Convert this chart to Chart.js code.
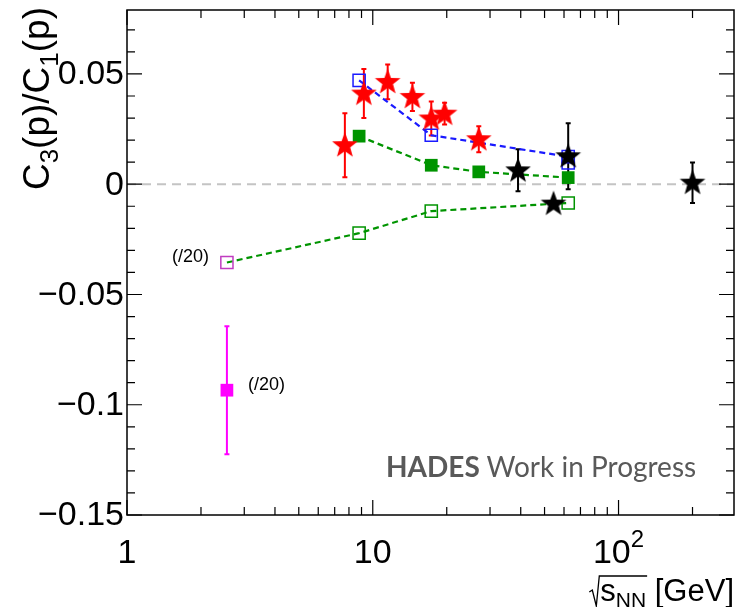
<!DOCTYPE html>
<html>
<head>
<meta charset="utf-8">
<script src="https://cdn.jsdelivr.net/npm/chart.js@4.4.0/dist/chart.umd.min.js"></script>
<style>
  html, body { margin: 0; padding: 0; background: #fff; }
  #wrap { width: 739px; height: 607px; }
</style>
</head>
<body>
<div id="wrap"><canvas id="c3c1Chart" width="739" height="607"></canvas></div>
<script>
// dados (sqrt(s_NN) em GeV, C3/C1)
const redStarE   = [7.7, 9.2, 11.5, 14.5, 17.3, 19.6, 27];
const redStarVal = [0.0177, 0.0411, 0.0464, 0.0396, 0.0298, 0.0320, 0.0204];
const redStarErr = [0.0145, 0.0111, 0.0079, 0.0064, 0.0077, 0.0049, 0.0059];

const blackStarE   = [39, 54.4, 62.4, 200];
const blackStarVal = [0.0063, -0.0088, 0.0127, 0.0007];
const blackStarErr = [0.0095, 0.0012, 0.0150, 0.0092];

const blueOpenE   = [8.8, 17.3, 62.4];
const blueOpenVal = [0.0471, 0.0222, 0.0125];
const blueExtraE   = [62.4];
const blueExtraVal = [0.0096];

const greenFullE   = [8.8, 17.3, 27, 62.4];
const greenFullVal = [0.0218, 0.0086, 0.0056, 0.0030];

const greenOpenE   = [2.55, 8.8, 17.3, 62.4];
const greenOpenVal = [-0.0355, -0.0222, -0.0122, -0.0085];

const hadesE   = [2.55];
const hadesVal = [-0.0934];
const hadesErr = [0.029];

// eixos
const xMajor = [1, 10, 100];
const xMajorLabels = [['1', ''], ['10', ''], ['10', '2']];
const xMinor = [2, 3, 4, 5, 6, 7, 8, 9, 20, 30, 40, 50, 60, 70, 80, 90, 200];
const yMajor = [-0.15, -0.1, -0.05, 0, 0.05];
const yMajorLabels = ['\u22120.15', '\u22120.1', '\u22120.05', '0', '0.05'];
const yMinor = [-0.14, -0.13, -0.12, -0.11, -0.09, -0.08, -0.07, -0.06, -0.04, -0.03, -0.02, -0.01,
                0.01, 0.02, 0.03, 0.04, 0.06, 0.07];

const FONT = '"Liberation Sans", Helvetica, Arial, sans-serif';
const toXY = (xs, ys) => xs.map((x, i) => ({ x: x, y: ys[i] }));

// marcador estrela cheia (estilo ROOT 29)
function makeStar(color) {
    const c = document.createElement('canvas');
    c.width = 30; c.height = 30;
    const g = c.getContext('2d');
    g.fillStyle = color;
    g.beginPath();
    const R = 13.5, r = 5.6;
    for (let i = 0; i < 10; i++) {
        const ang = -Math.PI / 2 + i * Math.PI / 5;
        const rad = i % 2 ? r : R;
        g.lineTo(15 + rad * Math.cos(ang), 15.5 + rad * Math.sin(ang));
    }
    g.closePath();
    g.fill();
    return c;
}
const redStar = makeStar('#ff0000');
const blackStar = makeStar('#000000');

function drawErrors(ctx, sx, sy, xs, ys, es, color) {
    ctx.save();
    ctx.strokeStyle = color;
    ctx.lineWidth = 2;
    xs.forEach((xv, i) => {
        const px = sx.getPixelForValue(xv);
        const top = sy.getPixelForValue(ys[i] + es[i]);
        const bot = sy.getPixelForValue(ys[i] - es[i]);
        ctx.beginPath();
        ctx.moveTo(px, top); ctx.lineTo(px, bot);
        ctx.moveTo(px - 2.5, top); ctx.lineTo(px + 2.5, top);
        ctx.moveTo(px - 2.5, bot); ctx.lineTo(px + 2.5, bot);
        ctx.stroke();
    });
    ctx.restore();
}

// desenha texto com pedaços (normal / sub / sup)
function richWidth(ctx, parts) {
    let w = 0;
    parts.forEach(p => { ctx.font = p.size + 'px ' + FONT; w += ctx.measureText(p.t).width; });
    return w;
}
function drawRich(ctx, parts, x, y) {
    let cx = x;
    parts.forEach(p => {
        ctx.font = p.size + 'px ' + FONT;
        ctx.fillText(p.t, cx, y + (p.dy || 0));
        cx += ctx.measureText(p.t).width;
    });
    return cx;
}

const rootStyle = {
    id: 'rootStyle',
    beforeDatasetsDraw(chart) {
        const { ctx, chartArea: a, scales: { x, y } } = chart;
        // linha do zero
        ctx.save();
        ctx.strokeStyle = '#c4c4c4';
        ctx.lineWidth = 2;
        ctx.setLineDash([9, 6]);
        const y0 = y.getPixelForValue(0);
        ctx.beginPath(); ctx.moveTo(a.left, y0); ctx.lineTo(a.right, y0); ctx.stroke();
        ctx.restore();

        drawErrors(ctx, x, y, redStarE, redStarVal, redStarErr, '#ff0000');
        drawErrors(ctx, x, y, blackStarE, blackStarVal, blackStarErr, '#000000');
        drawErrors(ctx, x, y, hadesE, hadesVal, hadesErr, '#ff00ff');
    },
    afterDatasetsDraw(chart) {
        const { ctx, chartArea: a, scales: { x, y } } = chart;
        ctx.save();
        // moldura
        ctx.strokeStyle = '#000';
        ctx.lineWidth = 1.5;
        ctx.strokeRect(a.left, a.top, a.right - a.left, a.bottom - a.top);

        // ticks para dentro, nos quatro lados
        ctx.lineWidth = 1.2;
        ctx.beginPath();
        xMajor.concat(xMinor).forEach(v => {
            const px = x.getPixelForValue(v);
            const len = xMajor.includes(v) ? 15 : 8;
            ctx.moveTo(px, a.bottom); ctx.lineTo(px, a.bottom - len);
            ctx.moveTo(px, a.top); ctx.lineTo(px, a.top + len);
        });
        yMajor.concat(yMinor).forEach(v => {
            const py = y.getPixelForValue(v);
            const len = yMajor.includes(v) ? 15 : 8;
            ctx.moveTo(a.left, py); ctx.lineTo(a.left + len, py);
            ctx.moveTo(a.right, py); ctx.lineTo(a.right - len, py);
        });
        ctx.stroke();

        ctx.fillStyle = '#000';
        // labels do eixo y
        ctx.font = '34px ' + FONT;
        ctx.textAlign = 'right';
        ctx.textBaseline = 'middle';
        yMajor.forEach((v, i) => ctx.fillText(yMajorLabels[i], a.left - 3, y.getPixelForValue(v) + 1));

        // labels do eixo x
        ctx.textAlign = 'left';
        ctx.textBaseline = 'alphabetic';
        xMajor.forEach((v, i) => {
            const parts = [{ t: xMajorLabels[i][0], size: 34 }];
            if (xMajorLabels[i][1]) parts.push({ t: xMajorLabels[i][1], size: 24, dy: -16 });
            const w = richWidth(ctx, parts);
            drawRich(ctx, parts, x.getPixelForValue(v) - w / 2, a.bottom + 48);
        });

        // titulo eixo x: sqrt(s_NN) [GeV]
        const xt = [{ t: 's', size: 31 }, { t: 'NN', size: 21, dy: 6 }, { t: ' [GeV]', size: 31 }];
        const xw = richWidth(ctx, xt);
        const x0 = a.right - xw;
        const base = 601;
        drawRich(ctx, xt, x0, base);
        ctx.font = '31px ' + FONT;
        const sW = ctx.measureText('s').width;
        ctx.font = '21px ' + FONT;
        const nnW = ctx.measureText('NN').width;
        ctx.lineWidth = 1.3;
        ctx.beginPath();
        ctx.moveTo(x0 - 11, base - 9);
        ctx.lineTo(x0 - 8, base - 11);
        ctx.lineTo(x0 - 4, base + 5);
        ctx.lineTo(x0 - 1, base - 25);
        ctx.lineTo(x0 + sW + nnW + 1, base - 25);
        ctx.stroke();

        // titulo eixo y: C3(p)/C1(p)
        const yt = [{ t: 'C', size: 37 }, { t: '3', size: 26, dy: 9 }, { t: '(p)/C', size: 37 },
                    { t: '1', size: 26, dy: 9 }, { t: '(p)', size: 37 }];
        const yw = richWidth(ctx, yt);
        ctx.save();
        ctx.translate(49, a.top - 3);
        ctx.rotate(-Math.PI / 2);
        drawRich(ctx, yt, -yw, 0);
        ctx.restore();

        // anotações (/20)
        ctx.font = '18px ' + FONT;
        ctx.textBaseline = 'middle';
        ctx.textAlign = 'right';
        ctx.fillText('(/20)', x.getPixelForValue(greenOpenE[0]) - 18, y.getPixelForValue(greenOpenVal[0]) - 5);
        ctx.textAlign = 'left';
        ctx.fillText('(/20)', x.getPixelForValue(hadesE[0]) + 21, y.getPixelForValue(hadesVal[0]) - 5);

        // HADES Work in Progress
        ctx.textBaseline = 'alphabetic';
        ctx.fillStyle = '#595959';
        ctx.font = 'bold 28px Lato, "Open Sans", sans-serif';
        ctx.fillText('HADES', 386, 477);
        const hw = ctx.measureText('HADES ').width;
        ctx.font = '28px Lato, "Open Sans", sans-serif';
        ctx.fillText('Work in Progress', 386 + hw, 477);
        ctx.restore();
    }
};

const blue = '#1a1aff';
const green = '#009400';
const openFill = 'rgba(0,0,0,0)';

const chart = new Chart(document.getElementById('c3c1Chart').getContext('2d'), {
    type: 'scatter',
    data: {
        datasets: [
            {
                label: 'red stars', data: toXY(redStarE, redStarVal),
                pointStyle: redStar, pointRadius: 12, order: 1
            },
            {
                label: 'black stars', data: toXY(blackStarE, blackStarVal),
                pointStyle: blackStar, pointRadius: 12, order: 2
            },
            {
                label: 'blue open', data: toXY(blueOpenE, blueOpenVal), showLine: true,
                borderColor: blue, borderWidth: 2.2, borderDash: [6, 4],
                pointStyle: 'rect', pointRadius: 8.6, pointBorderColor: blue,
                pointBackgroundColor: openFill, pointBorderWidth: 1.5, order: 3
            },
            {
                label: 'blue extra', data: toXY(blueExtraE, blueExtraVal),
                pointStyle: 'rect', pointRadius: 8.6, pointBorderColor: blue,
                pointBackgroundColor: openFill, pointBorderWidth: 1.5, order: 3
            },
            {
                label: 'green full', data: toXY(greenFullE, greenFullVal), showLine: true,
                borderColor: green, borderWidth: 2.2, borderDash: [6, 4],
                pointStyle: 'rect', pointRadius: 9, pointBorderColor: green,
                pointBackgroundColor: green, pointBorderWidth: 0, order: 4
            },
            {
                label: 'green open', data: toXY(greenOpenE, greenOpenVal), showLine: true,
                borderColor: green, borderWidth: 2.2, borderDash: [6, 4],
                pointStyle: 'rect', pointRadius: 8.6,
                pointBorderColor: ['#c03cc0', green, green, green],
                pointBackgroundColor: openFill, pointBorderWidth: 1.5, order: 5
            },
            {
                label: 'HADES', data: toXY(hadesE, hadesVal),
                pointStyle: 'rect', pointRadius: 9, pointBorderColor: '#ff00ff',
                pointBackgroundColor: '#ff00ff', pointBorderWidth: 0, order: 6
            }
        ]
    },
    options: {
        responsive: false,
        animation: false,
        events: [],
        layout: { autoPadding: false, padding: { left: 127, right: 5, top: 10, bottom: 92 } },
        plugins: { legend: { display: false }, tooltip: { enabled: false } },
        scales: {
            x: { type: 'logarithmic', min: 1, max: 295, display: false },
            y: { type: 'linear', min: -0.15, max: 0.079, display: false }
        }
    },
    plugins: [rootStyle]
});
</script>
</body>
</html>
